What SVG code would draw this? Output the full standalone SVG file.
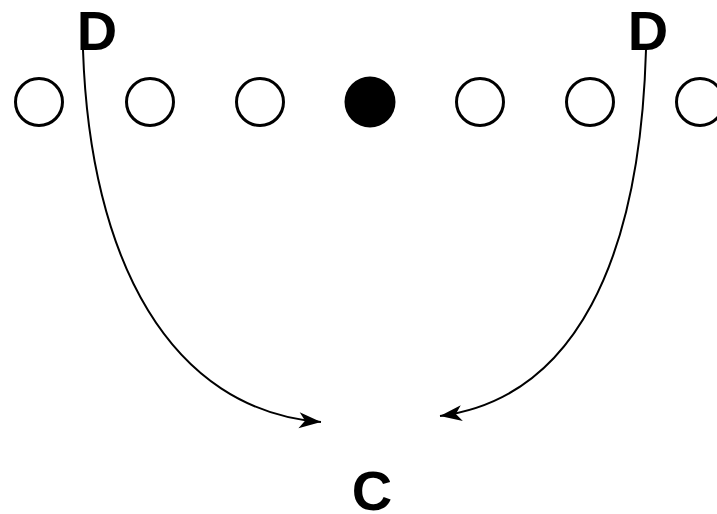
<svg xmlns="http://www.w3.org/2000/svg" width="717" height="514" viewBox="0 0 717 514">
<style>
.lbl{font-family:"Liberation Sans",Arial,sans-serif;font-weight:bold;font-size:56px;fill:#000;text-anchor:middle}
.o{fill:#fff;stroke:#000;stroke-width:3}
.f{fill:#000}
.con{fill:none;stroke:#000;stroke-width:2}
</style>
<defs>
<marker id="ah" markerUnits="userSpaceOnUse" markerWidth="24" markerHeight="18" viewBox="0 -9 24 18" refX="22" refY="0" orient="auto" overflow="visible">
<path d="M0,-8 L22,0 L0,8 L6,0 z" fill="#000"/>
</marker>
</defs>
<rect width="717" height="514" fill="#fff"/>
<g id="players">
<circle class="o" cx="39" cy="102" r="23.5"/>
<circle class="o" cx="150" cy="102" r="23.5"/>
<circle class="o" cx="260" cy="102" r="23.5"/>
<circle class="f" cx="370" cy="102" r="25.5"/>
<circle class="o" cx="480" cy="102" r="23.5"/>
<circle class="o" cx="590" cy="102" r="23.5"/>
<circle class="o" cx="700" cy="102" r="23.5"/>
</g>
<g id="D1"><text class="lbl" x="97" y="50">D</text></g>
<g id="D2"><text class="lbl" x="648" y="50">D</text></g>
<g id="C"><text class="lbl" x="372" y="510">C</text></g>
<g id="connectors">
<path class="con" d="M83,50 C90,260 170,410 321,422" marker-end="url(#ah)"/>
<path class="con" d="M646,50 C640,260 575,398 440,416" marker-end="url(#ah)"/>
</g>
</svg>
